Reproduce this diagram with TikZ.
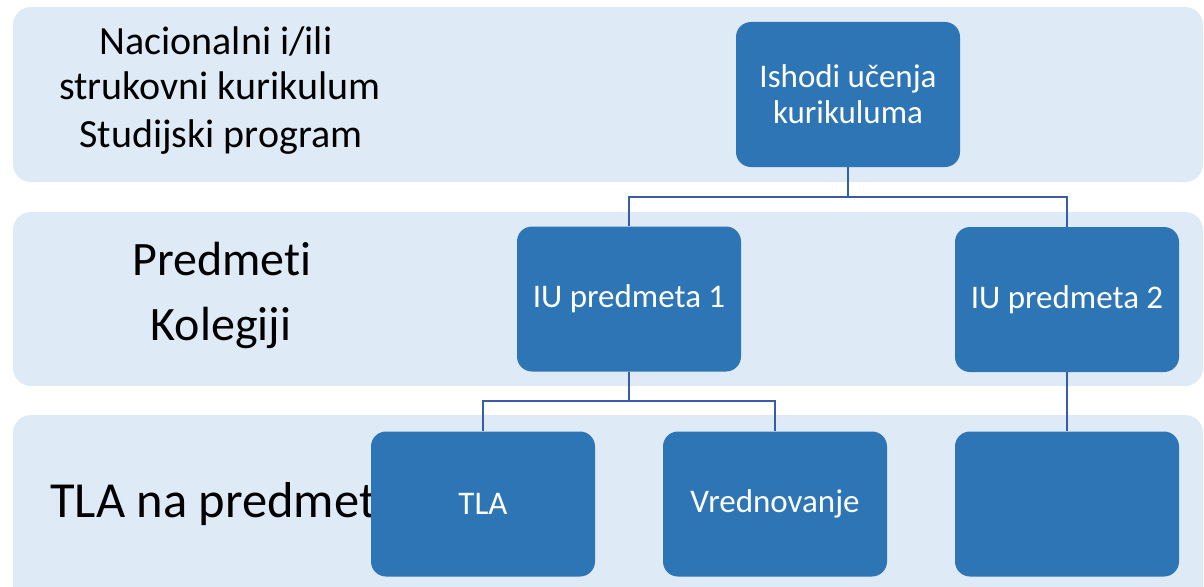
\documentclass[tikz,border=0pt]{standalone}
\usepackage{fontspec}
\setmainfont{Carlito}[Ligatures={NoCommon}]
\definecolor{bandfill}{HTML}{DEEAF6}
\definecolor{boxfill}{HTML}{2E75B6}
\definecolor{linkcol}{HTML}{3A5BA8}
\begin{document}
\begin{tikzpicture}[x=1pt,y=-1pt,
  band/.style={fill=bandfill, rounded corners=18pt},
  unit/.style={fill=boxfill, rounded corners=15pt, minimum width=224pt,
    minimum height=145pt, inner sep=0pt, text=white,
    font=\fontsize{33}{36}\selectfont, align=center},
  tierlabel/.style={anchor=base, inner sep=0pt, font=\fontsize{40}{46}\selectfont},
  biglabel/.style={anchor=base, inner sep=0pt, font=\fontsize{48}{56}\selectfont},
  link/.style={draw=linkcol, line width=2pt}]
\clip (0,0) rectangle (1204,586);
% background bands for the three levels
\fill[band] (13,7) rectangle (1203,182);
\fill[band] (13,212) rectangle (1203,386);
\fill[band] (13,415) rectangle (1203,640);
% level labels
\node[tierlabel] (n1) at (216,55) {Nacionalni i/ili};
\node[tierlabel] (n2) at (220,99) {strukovni kurikulum};
\node[tierlabel] (n3) at (221,147) {Studijski program};
\node[biglabel] (p1) at (222,275) {Predmeti};
\node[biglabel] (p2) at (221,340) {Kolegiji};
\node[biglabel, anchor=base west, font=\fontsize{50.5}{58}\selectfont] (t1) at (50,517) {TLA na predmet};
% junction points of the connectors
\coordinate (j1) at (848,197);
\coordinate (j2) at (629,401);
% outcome boxes
\node[unit] (ish) at (848,94.5) {Ishodi učenja\\kurikuluma};
\node[unit] (iu1) at (629,299) {IU predmeta 1};
\node[unit] (iu2) at (1067,299.5) {IU predmeta 2};
\node[unit] (tla) at (483,504) {TLA};
\node[unit] (vred) at (775,504) {Vrednovanje};
\node[unit] (blank) at (1067,504) {};
% connectors
\draw[link] (ish.south) -- (j1) -| (iu1.north);
\draw[link] (j1) -| (iu2.north);
\draw[link] (iu1.south) -- (j2) -| (tla.north);
\draw[link] (j2) -| (vred.north);
\draw[link] (iu2.south) -- (blank.north);
\end{tikzpicture}
\end{document}
